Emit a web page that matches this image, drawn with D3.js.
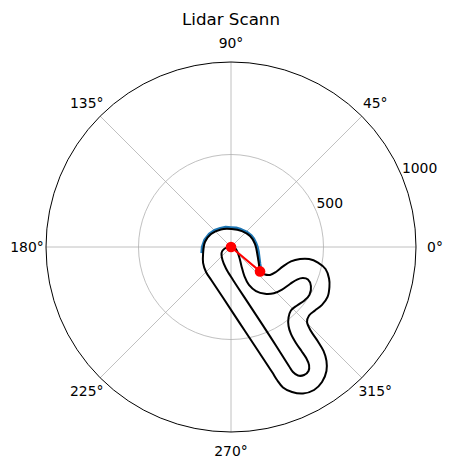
<!DOCTYPE html>
<html><head><meta charset="utf-8">
<script src="https://cdn.jsdelivr.net/npm/d3@7"></script>
<style>
body{margin:0;background:#fff}
svg{display:block}
text{font-family:"DejaVu Sans",sans-serif;fill:#000}
</style>
</head><body>
<svg id="c" width="453" height="468"></svg>
<script>
// ---------- data ----------
const title = "Lidar Scann";
const thetaTicks = [0, 45, 90, 135, 180, 225, 270, 315];
const rTicks = [500, 1000];
const rMax = 1000;

// lidar scan (angle in degrees, range)
const scanAngles = [-36, -30, -20, -10, 0, 10, 20, 30, 45, 60, 75, 90, 105, 120, 135, 150, 165, 180, 192];
const scanRanges = [198, 180, 161, 150, 142, 135, 130, 125, 116, 109, 106, 104, 110, 116, 126, 137, 147, 155, 161];

// target point (angle in degrees, range)
const targetAngle = -40;
const targetRange = 205;

// track walls in robot frame (x, y)
const outerWall = [[157,-132],[184,-149],[211,-151],[243,-135],[281,-105],[324,-78],[373,-65],[422,-65],[470,-84],[511,-119],[530,-170],[532,-216],[522,-270],[492,-313],[454,-343],[422,-370],[411,-405],[432,-454],[470,-511],[500,-562],[516,-616],[516,-670],[492,-730],[449,-773],[389,-792],[330,-784],[281,-759],[249,-719],[222,-676],[139,-550],[49,-414],[-42,-276],[-105,-181],[-135,-135],[-151,-86],[-151,-38],[-141,27],[-108,70],[-54,95],[3,97],[59,86],[103,59],[130,16],[143,-43],[151,-92]];
const innerWall = [[-51,-32],[-41,-14],[-19,-2],[5,0],[24,-8],[35,-27],[46,-59],[57,-105],[73,-159],[97,-205],[135,-238],[184,-253],[232,-250],[276,-230],[319,-200],[357,-176],[389,-168],[416,-176],[432,-211],[424,-259],[397,-289],[357,-316],[324,-343],[311,-381],[311,-427],[324,-470],[351,-519],[381,-562],[408,-603],[422,-638],[419,-670],[395,-692],[362,-695],[335,-676],[313,-643],[211,-483],[103,-318],[11,-178],[-27,-116],[-46,-70]];

// ---------- drawing ----------
const cx = 231, cy = 247, R = 185;
const svg = d3.select("#c");
const r = d3.scaleLinear().domain([0, rMax]).range([0, R]);
const rad = d => d * Math.PI / 180;
const ang = deg => Math.PI / 2 - rad(deg);   // matplotlib theta -> d3 radial angle
const px = (deg, v) => [r(v) * Math.cos(rad(deg)), -r(v) * Math.sin(rad(deg))];

svg.append("text").attr("x", cx).attr("y", 25).attr("text-anchor", "middle")
  .style("font-size", "16.7px").text(title);

const g = svg.append("g").attr("transform", `translate(${cx},${cy})`);

// grid
g.selectAll(".rg").data(rTicks.filter(t => t < rMax)).join("circle")
  .attr("r", d => r(d)).attr("fill", "none").attr("stroke", "#b0b0b0").attr("stroke-width", 0.8);
g.selectAll(".tg").data(thetaTicks).join("line")
  .attr("x1", 0).attr("y1", 0)
  .attr("x2", d => px(d, rMax)[0]).attr("y2", d => px(d, rMax)[1])
  .attr("stroke", "#b0b0b0").attr("stroke-width", 0.8);

// data lines
const toPolar = p => ({ theta: Math.atan2(p[1], p[0]) * 180 / Math.PI, r: Math.hypot(p[0], p[1]) });
const radialLine = d3.lineRadial().angle(d => ang(d.theta)).radius(d => r(d.r));

const scan = scanAngles.map((t, i) => ({ theta: t, r: scanRanges[i] }));
g.append("path").attr("d", radialLine(scan)).attr("fill", "none")
  .attr("stroke", "#1f77b4").attr("stroke-width", 3).attr("stroke-linejoin", "round");

const closedLine = d3.lineRadial().angle(d => ang(d.theta)).radius(d => r(d.r))
  .curve(d3.curveCatmullRomClosed.alpha(0.5));
[outerWall, innerWall].forEach(w => {
  g.append("path").attr("d", closedLine(w.map(toPolar))).attr("fill", "none")
    .attr("stroke", "#000").attr("stroke-width", 2);
});

// target line & markers
const tgt = [{ theta: 0, r: 0 }, { theta: targetAngle, r: targetRange }];
g.append("path").attr("d", radialLine(tgt)).attr("fill", "none")
  .attr("stroke", "#ff0000").attr("stroke-width", 2);
g.selectAll(".mk").data(tgt).join("circle")
  .attr("cx", d => px(d.theta, d.r)[0]).attr("cy", d => px(d.theta, d.r)[1])
  .attr("r", 5.3).attr("fill", "#ff0000");

// spine
g.append("circle").attr("r", R).attr("fill", "none").attr("stroke", "#000").attr("stroke-width", 1);

// theta labels
g.selectAll(".tl").data(thetaTicks).join("text")
  .attr("x", d => 204 * Math.cos(rad(d))).attr("y", d => -204 * Math.sin(rad(d)))
  .attr("text-anchor", "middle").attr("dominant-baseline", "central")
  .style("font-size", "13.9px").text(d => d + "°");

// r labels at 22.5°
g.selectAll(".rl").data(rTicks).join("text")
  .attr("x", d => px(22.5, d)[0]).attr("y", d => px(22.5, d)[1] - 3.3)
  .attr("text-anchor", "start").style("font-size", "13.9px").text(d => d);
</script>
</body></html>
